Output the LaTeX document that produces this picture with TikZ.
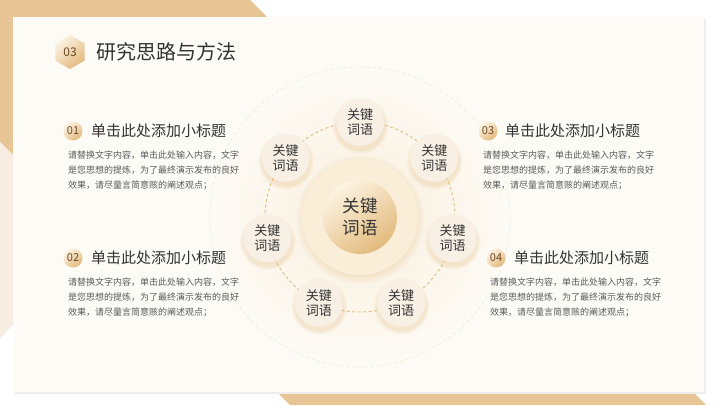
\documentclass[tikz,border=0pt]{standalone}
\usepackage{fontspec}
\setmainfont{Noto Sans CJK SC}
\usetikzlibrary{shapes.geometric,shadows,fadings,calc}
\definecolor{tanc}{RGB}{232,197,148}
\definecolor{palec}{RGB}{247,237,226}
\definecolor{cardc}{RGB}{253,251,246}
\definecolor{ringc}{RGB}{228,192,135}
\definecolor{nodec}{RGB}{248,240,229}
\definecolor{goldA}{RGB}{253,243,226}
\definecolor{goldB}{RGB}{226,186,126}
\definecolor{glowc}{RGB}{250,239,220}
\definecolor{txtA}{RGB}{51,51,51}
\definecolor{txtB}{RGB}{90,90,90}
\definecolor{numc}{RGB}{110,75,40}
\tikzset{
 kw/.style={circle, minimum size=48pt, inner sep=0pt, fill=nodec, text=txtA, align=center,
   font=\fontsize{13}{15}\selectfont,
   circular drop shadow={shadow xshift=0pt, shadow yshift=-3pt, shadow scale=1.18, fill=goldB, opacity=0.3}},
 badge/.style={circle, minimum size=19pt, inner sep=0pt, top color=goldA, bottom color=goldB,
   shading angle=40, text=numc, font=\fontsize{11}{12}\selectfont},
 head/.style={anchor=west, inner sep=0pt, text=txtA, font=\fontsize{15}{18}\selectfont},
 bodyline/.style={anchor=west, inner sep=0pt, text=txtB, font=\fontsize{9}{10}\selectfont},
 ringline/.style={draw=ringc, line width=1pt, dash pattern=on 3pt off 2.5pt},
}
\begin{document}
\begin{tikzpicture}[x=1pt,y=-1pt]
\useasboundingbox (0,0) rectangle (720,405);
\fill[white] (0,0) rectangle (720,405);
% decorative bands
\fill[tanc] (0,0) -- (250,0) -- (270,20) -- (13,20) -- (13,155) -- (0,142) -- cycle;
\fill[palec] (0,142) -- (13,155) -- (13,325) -- (0,338) -- cycle;
\fill[tanc] (270,385) -- (686,385) -- (706,405) -- (290,405) -- cycle;
% card
\fill[black!7] (15,19) rectangle (706,394);
\fill[cardc] (13,17) rectangle (704,392);
% title
\node[regular polygon, regular polygon sides=6, shape border rotate=30, minimum size=34pt, inner sep=0pt,
  top color=goldA, bottom color=goldB, shading angle=40, text=numc, font=\fontsize{12}{13}\selectfont] (tb) at (70,52) {03};
\node[anchor=west, inner sep=0pt, text=txtA, font=\fontsize{20}{24}\selectfont] (title) at (96,52) {研究思路与方法};
% central area
\shade[inner color=glowc, outer color=cardc] (360,217) circle (150);
\draw[ringc!40, line width=0.6pt, dash pattern=on 3pt off 3pt] (360,217) circle (150);
\node[circle, minimum size=116pt, inner sep=0pt, fill={rgb,255:red,250;green,238;blue,216},
  circular drop shadow={shadow xshift=0pt, shadow yshift=-2pt, shadow scale=1.12, fill=goldB, opacity=0.3}] (co) at (360,217) {};
\draw[ringline] (co.center) circle (95);
\node[circle, minimum size=74pt, inner sep=0pt, top color={rgb,255:red,253;green,244;blue,226},
  bottom color={rgb,255:red,226;green,186;blue,124}, shading angle=35, text=txtA, align=center,
  font=\fontsize{17.5}{22}\selectfont] (c) at (360,217) {关键\\词语};
% keyword nodes
\foreach \i in {0,...,6}{
  \node[kw] (k\i) at ($(c.center)+({-90+\i*360/7}:95)$) {关键\\词语};
}
% section 1
\node[badge] (b1) at (73,131) {01};
\node[head] (h1) at (91,131) {单击此处添加小标题};
\node[bodyline] (t1a) at (68,155) {请替换文字内容，单击此处输入内容，文字};
\node[bodyline] (t1b) at (68,170) {是您思想的提炼，为了最终演示发布的良好};
\node[bodyline] (t1c) at (68,185) {效果，请尽量言简意赅的阐述观点；};
% section 2
\node[badge] (b2) at (73,258) {02};
\node[head] (h2) at (91,258) {单击此处添加小标题};
\node[bodyline] (t2a) at (68,282) {请替换文字内容，单击此处输入内容，文字};
\node[bodyline] (t2b) at (68,297) {是您思想的提炼，为了最终演示发布的良好};
\node[bodyline] (t2c) at (68,312) {效果，请尽量言简意赅的阐述观点；};
% section 3
\node[badge] (b3) at (488,131) {03};
\node[head] (h3) at (505,131) {单击此处添加小标题};
\node[bodyline] (t3a) at (483,155) {请替换文字内容，单击此处输入内容，文字};
\node[bodyline] (t3b) at (483,170) {是您思想的提炼，为了最终演示发布的良好};
\node[bodyline] (t3c) at (483,185) {效果，请尽量言简意赅的阐述观点；};
% section 4
\node[badge] (b4) at (496,258) {04};
\node[head] (h4) at (514,258) {单击此处添加小标题};
\node[bodyline] (t4a) at (490,282) {请替换文字内容，单击此处输入内容，文字};
\node[bodyline] (t4b) at (490,297) {是您思想的提炼，为了最终演示发布的良好};
\node[bodyline] (t4c) at (490,312) {效果，请尽量言简意赅的阐述观点；};
\end{tikzpicture}
\end{document}
